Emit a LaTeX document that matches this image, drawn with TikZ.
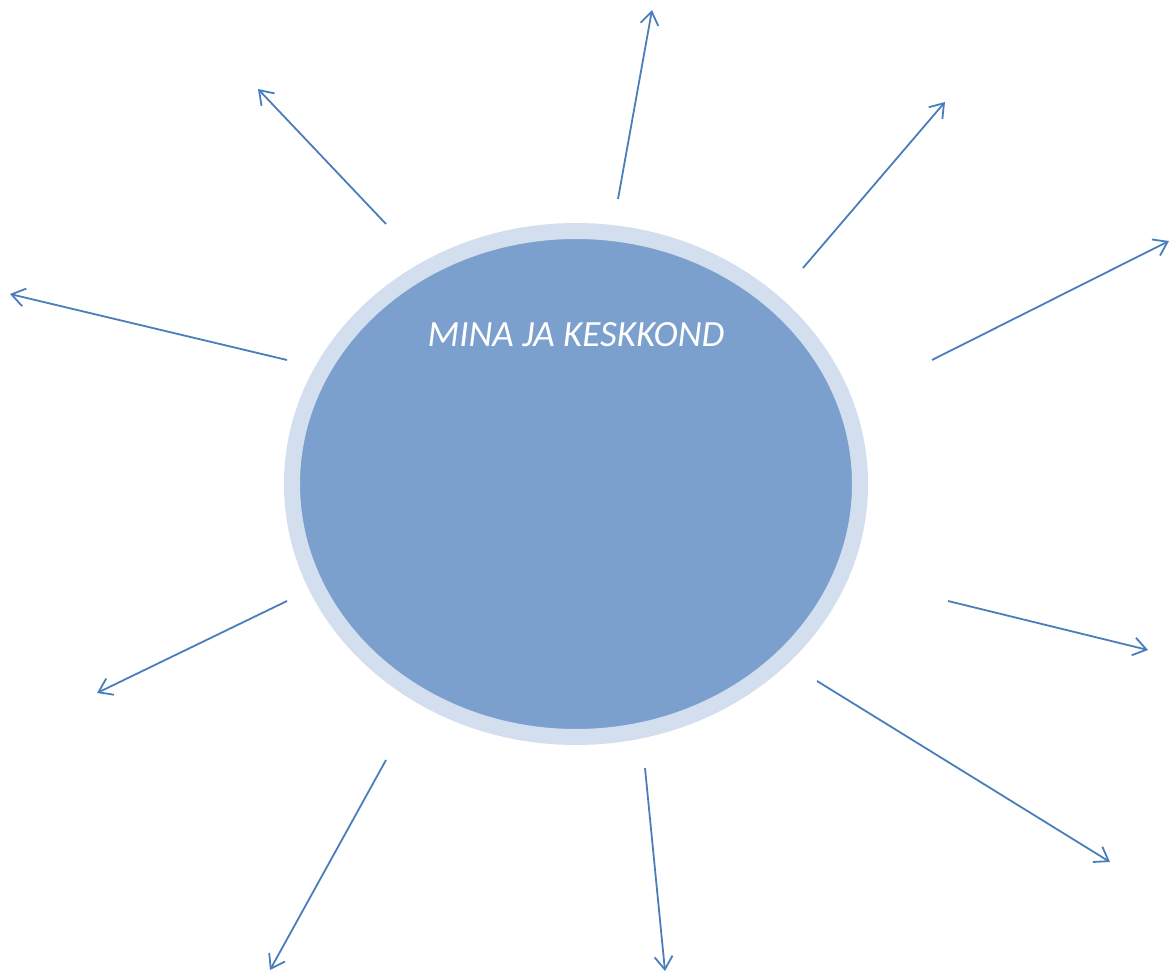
\documentclass[tikz,border=0pt]{standalone}
\usepackage{fontspec}
\setmainfont{Carlito}
\usetikzlibrary{shapes.geometric,arrows.meta}
\definecolor{ringc}{HTML}{D3DFEE}
\definecolor{fillc}{HTML}{7BA0CD}
\definecolor{arrc}{HTML}{4A7EBB}
\tikzset{
  ray/.style={draw=arrc, line width=1.8pt, -{Straight Barb[length=13pt,width=18pt,line width=1.8pt]}},
  centre/.style={ellipse, fill=fillc, draw=ringc, line width=16pt, minimum width=568pt, minimum height=506pt, inner sep=0pt},
  title/.style={text=white, font=\itshape\fontsize{37}{44}\selectfont, inner sep=0pt}
}
\begin{document}
\begin{tikzpicture}[x=1pt,y=-1pt]
\useasboundingbox (0,0) rectangle (1170,976);
\node[centre] (c) at (576,484) {};
\node[title] (t) at (576,335) {MINA JA KESKKOND};
\coordinate (s1) at (618,199);  \coordinate (e1) at (652,10);
\coordinate (s2) at (803,268);  \coordinate (e2) at (945,102);
\coordinate (s3) at (932,360);  \coordinate (e3) at (1169,241);
\coordinate (s4) at (948,601);  \coordinate (e4) at (1148,650);
\coordinate (s5) at (817,681);  \coordinate (e5) at (1110,862);
\coordinate (s6) at (645,768);  \coordinate (e6) at (665,971);
\coordinate (s7) at (386,760);  \coordinate (e7) at (270,970);
\coordinate (s8) at (287,601);  \coordinate (e8) at (97,693);
\coordinate (s9) at (287,360);  \coordinate (e9) at (10,294);
\coordinate (s10) at (386,224); \coordinate (e10) at (258,89);
\foreach \i in {1,...,10} \draw[ray] (s\i) -- (e\i);
\end{tikzpicture}
\end{document}
